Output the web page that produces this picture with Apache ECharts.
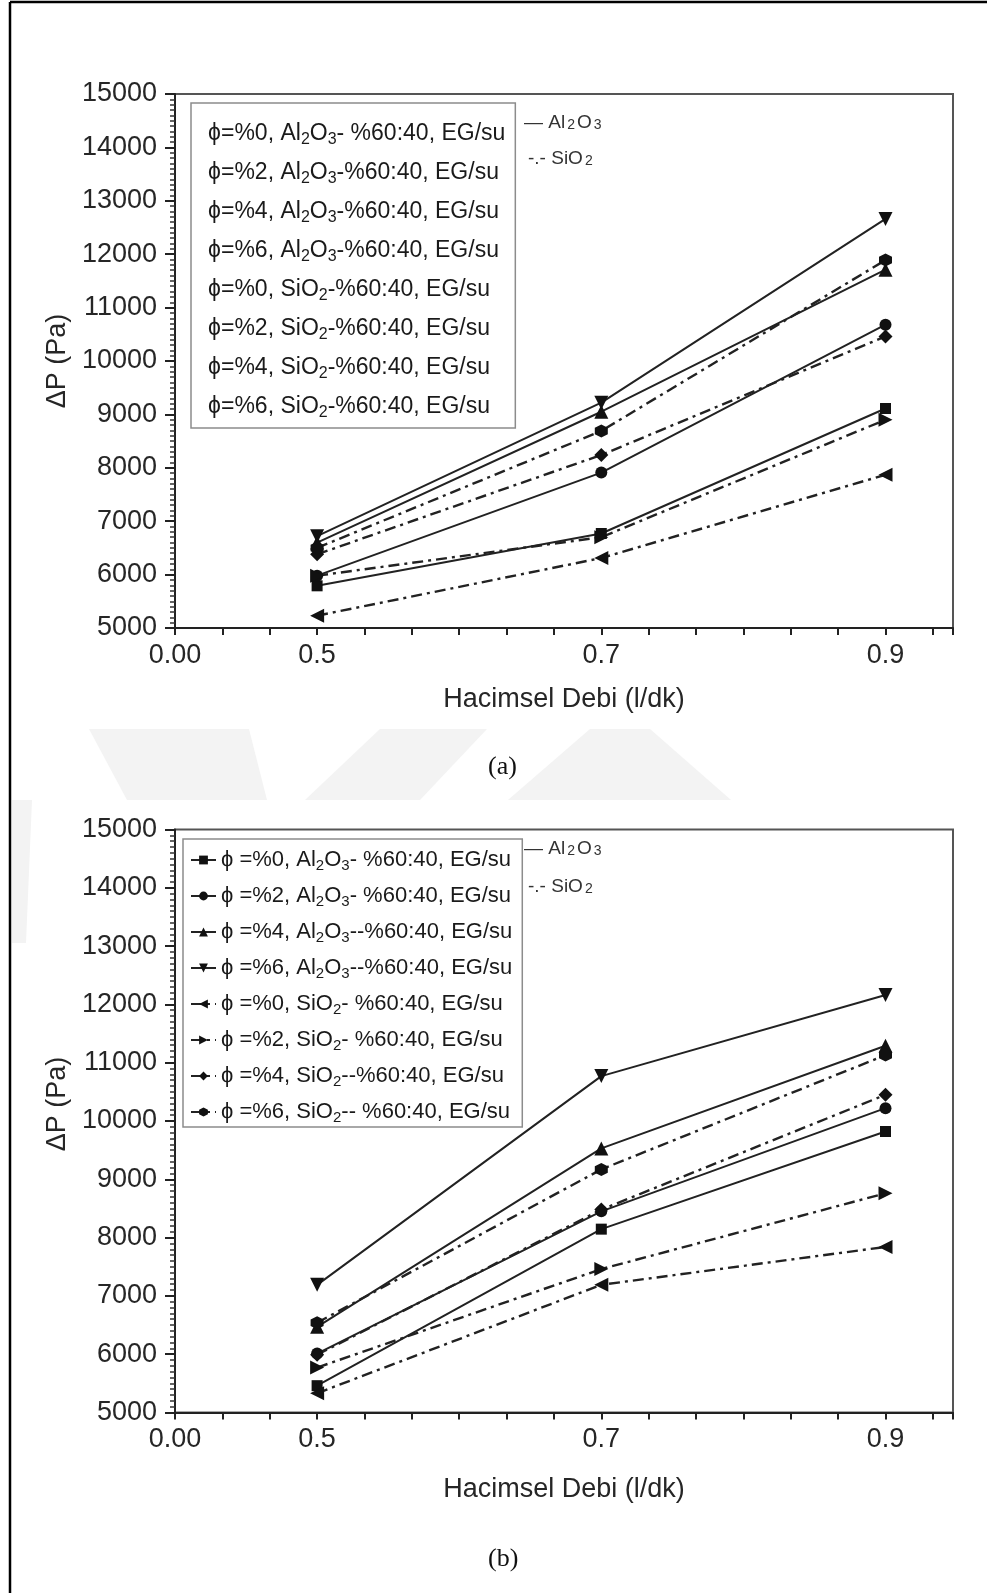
<!DOCTYPE html>
<html>
<head>
<meta charset="utf-8">
<title>ΔP - Hacimsel Debi</title>
<script src="https://cdn.jsdelivr.net/npm/echarts/dist/echarts.min.js"></script>
<style>
  html, body { margin: 0; padding: 0; background: #fff; }
  #main { width: 987px; height: 1593px; }
</style>
</head>
<body>
<div id="main"></div>
<script>
// x ekseni: hacimsel debi (l/dk)
var debi = [0.5, 0.7, 0.9]
var xTickValues = [0.4, 0.5, 0.7, 0.9]
var xTickLabels = ['0.00', '0.5', '0.7', '0.9']

// (a) grafiği
var namesA = [
  'ϕ=%0, Al2O3- %60:40, EG/su',
  'ϕ=%2, Al2O3-%60:40, EG/su',
  'ϕ=%4, Al2O3-%60:40, EG/su',
  'ϕ=%6, Al2O3-%60:40, EG/su',
  'ϕ=%0, SiO2-%60:40, EG/su',
  'ϕ=%2, SiO2-%60:40, EG/su',
  'ϕ=%4, SiO2-%60:40, EG/su',
  'ϕ=%6, SiO2-%60:40, EG/su'
]
var al0A = [5790, 6770, 9110]
var al2A = [5980, 7910, 10680]
var al4A = [6600, 9050, 11710]
var al6A = [6720, 9220, 12660]
var si0A = [5230, 6310, 7870]
var si2A = [5980, 6700, 8900]
var si4A = [6380, 8240, 10460]
var si6A = [6500, 8690, 11890]

// (b) grafiği
var namesB = [
  'ϕ =%0, Al2O3- %60:40, EG/su',
  'ϕ =%2, Al2O3- %60:40, EG/su',
  'ϕ =%4, Al2O3--%60:40, EG/su',
  'ϕ =%6, Al2O3--%60:40, EG/su',
  'ϕ =%0, SiO2- %60:40, EG/su',
  'ϕ =%2, SiO2- %60:40, EG/su',
  'ϕ =%4, SiO2--%60:40, EG/su',
  'ϕ =%6, SiO2-- %60:40, EG/su'
]
var al0B = [5460, 8145, 9820]
var al2B = [6010, 8450, 10220]
var al4B = [6470, 9530, 11290]
var al6B = [7190, 10770, 12160]
var si0B = [5330, 7190, 7840]
var si2B = [5770, 7460, 8760]
var si4B = [5990, 8480, 10450]
var si6B = [6540, 9170, 11130]

var valuesA = [al0A, al2A, al4A, al6A, si0A, si2A, si4A, si6A]
var valuesB = [al0B, al2B, al4B, al6B, si0B, si2B, si4B, si6B]

var font = 'Liberation Sans, Arial, sans-serif'
var ink = '#262626'
var hexagon = 'path://M0,-10L8.66,-5L8.66,5L0,10L-8.66,5L-8.66,-5Z'

// işaretler: kare, daire, üçgen, ters üçgen, sol, sağ, elmas, altıgen
var markers = [
  { symbol: 'rect', size: 11, rotate: 0 },
  { symbol: 'circle', size: 12, rotate: 0 },
  { symbol: 'triangle', size: 14, rotate: 0 },
  { symbol: 'triangle', size: 14, rotate: 180 },
  { symbol: 'triangle', size: 14, rotate: 90 },
  { symbol: 'triangle', size: 14, rotate: -90 },
  { symbol: 'diamond', size: 14, rotate: 0 },
  { symbol: hexagon, size: 13, rotate: 0 }
]

function chem(s) {
  return s.replace('Al2O3', 'Al{s|2}O{s|3}').replace('SiO2', 'SiO{s|2}')
}

function subStyle(size) {
  return { fontSize: size, lineHeight: size, verticalAlign: 'bottom', fontFamily: font, color: '#1a1a1a' }
}

function fmtX(v) {
  for (var k = 0; k < xTickValues.length; k++) {
    if (Math.abs(v - xTickValues[k]) < 0.005) return xTickLabels[k]
  }
  return ''
}

function buildSeries(names, values, idx) {
  return names.map(function (name, i) {
    var m = markers[i]
    var dashed = i >= 4
    return {
      name: name,
      type: 'line',
      xAxisIndex: idx,
      yAxisIndex: idx,
      data: debi.map(function (x, k) { return [x, values[i][k]] }),
      symbol: m.symbol,
      symbolSize: m.size,
      symbolRotate: m.rotate,
      itemStyle: { color: '#111' },
      lineStyle: { color: '#222', width: dashed ? 2.4 : 2, type: dashed ? [11, 5, 3, 5] : 'solid' }
    }
  })
}

function xAxisOf(idx, gap) {
  return {
    type: 'value', gridIndex: idx, min: 0.4, max: 0.9475, interval: 1 / 30,
    axisLine: { onZero: false, lineStyle: { color: '#222', width: 2 } },
    axisTick: { length: 7, lineStyle: { color: '#222', width: 2 } },
    axisLabel: { margin: 14, fontSize: 27, color: ink, fontFamily: font, formatter: fmtX },
    splitLine: { show: false },
    name: 'Hacimsel Debi (l/dk)', nameLocation: 'middle', nameGap: gap,
    nameTextStyle: { fontSize: 27, color: ink, fontFamily: font }
  }
}

function yAxisOf(idx, pad) {
  return {
    type: 'value', gridIndex: idx, min: 5000, max: 15000, interval: 1000,
    axisLine: { show: true, onZero: false, lineStyle: { color: '#222', width: 2 } },
    axisTick: { show: true, length: 10, lineStyle: { color: '#222', width: 2 } },
    minorTick: { show: true, splitNumber: 10, length: 5, lineStyle: { color: '#333', width: 1.5 } },
    axisLabel: { margin: 18, fontSize: 27, color: ink, fontFamily: font, formatter: function (v) { return String(v) } },
    splitLine: { show: false },
    name: 'ΔP (Pa)', nameLocation: 'middle', nameGap: 88, nameRotate: 90,
    nameTextStyle: { fontSize: 27, color: ink, fontFamily: font, padding: pad }
  }
}

function legendOf(names, opt) {
  return Object.assign({
    data: names,
    orient: 'vertical',
    selectedMode: false,
    backgroundColor: '#fff',
    borderColor: '#8c8c8c',
    borderWidth: 1.5,
    formatter: chem
  }, opt)
}

function note(x, y, text) {
  return {
    type: 'text', left: x, top: y,
    style: {
      text: text, fontSize: 19, fontFamily: font, fill: '#333',
      rich: { s: { fontSize: 14, lineHeight: 14, verticalAlign: 'bottom', fontFamily: font, fill: '#333', padding: [0, 2, 0, 2] } }
    }
  }
}

var chart = echarts.init(document.getElementById('main'))

var option = {
  animation: false,
  backgroundColor: '#fff',
  grid: [
    { left: 175, top: 94, width: 778, height: 534, show: true, borderColor: '#555', borderWidth: 2 },
    { left: 175, top: 829.5, width: 778, height: 583, show: true, borderColor: '#555', borderWidth: 2 }
  ],
  xAxis: [xAxisOf(0, 58), xAxisOf(1, 64)],
  yAxis: [yAxisOf(0, 0), yAxisOf(1, [0, 0, 0, 34])],
  legend: [
    legendOf(namesA, {
      left: 191, top: 103, padding: [17, 10, 7, 6], itemGap: 11, itemWidth: 1, itemHeight: 14,
      itemStyle: { opacity: 0 }, lineStyle: { opacity: 0 },
      textStyle: { fontSize: 23, lineHeight: 28, color: '#1a1a1a', fontFamily: font, rich: { s: subStyle(16) } }
    }),
    legendOf(namesB, {
      left: 183, top: 839, padding: [8, 10, 2, 7], itemGap: 10, itemWidth: 25, itemHeight: 11,
      textStyle: { fontSize: 22, lineHeight: 26, color: '#1a1a1a', fontFamily: font, rich: { s: subStyle(15) } }
    })
  ],
  graphic: [
    // sayfa çerçevesi
    { type: 'line', shape: { x1: 10, y1: 2, x2: 10, y2: 1593 }, style: { stroke: '#000', lineWidth: 2.5 } },
    { type: 'line', shape: { x1: 10, y1: 2, x2: 987, y2: 2 }, style: { stroke: '#000', lineWidth: 2.5 } },
    // soluk filigran
    { type: 'polygon', z: -10, shape: { points: [[89, 729], [249, 729], [267, 800], [127, 800]] }, style: { fill: '#f3f3f3' } },
    { type: 'polygon', z: -10, shape: { points: [[380, 729], [487, 729], [420, 800], [305, 800]] }, style: { fill: '#f3f3f3' } },
    { type: 'polygon', z: -10, shape: { points: [[590, 729], [650, 729], [731, 800], [508, 800]] }, style: { fill: '#f3f3f3' } },
    { type: 'polygon', z: -10, shape: { points: [[12, 800], [32, 800], [26, 943], [12, 943]] }, style: { fill: '#f3f3f3' } },
    note(524, 113, '— Al{s|2}O{s|3}'),
    note(528, 149, '-.- SiO{s|2}'),
    note(524, 839, '— Al{s|2}O{s|3}'),
    note(528, 877, '-.- SiO{s|2}'),
    {
      type: 'text', left: 488, top: 754,
      style: { text: '(a)', fontSize: 26, fontFamily: 'Liberation Serif, Times New Roman, serif', fill: '#111' }
    },
    {
      type: 'text', left: 488, top: 1546,
      style: { text: '(b)', fontSize: 26, fontFamily: 'Liberation Serif, Times New Roman, serif', fill: '#111' }
    }
  ],
  series: buildSeries(namesA, valuesA, 0).concat(buildSeries(namesB, valuesB, 1))
}

chart.setOption(option)
</script>
</body>
</html>
